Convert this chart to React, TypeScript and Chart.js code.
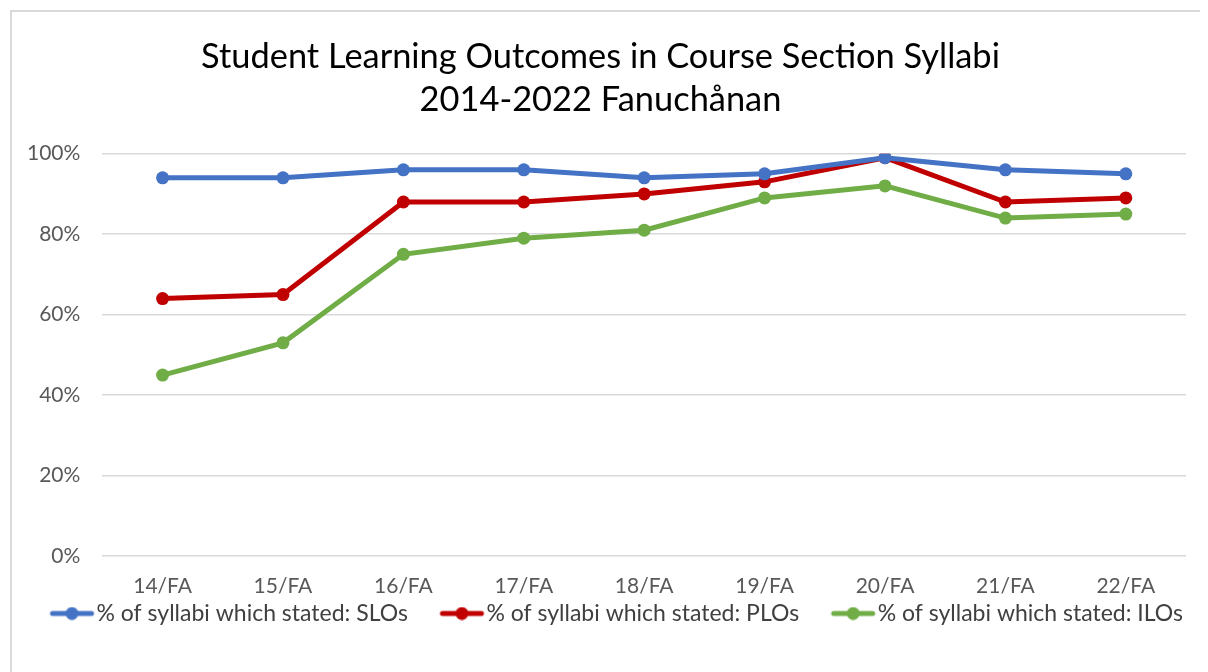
import React, { useEffect, useRef } from "react";
import { Chart, registerables } from "chart.js";

Chart.register(...registerables);

const categories = ["14/FA", "15/FA", "16/FA", "17/FA", "18/FA", "19/FA", "20/FA", "21/FA", "22/FA"];
const sloValues = [94, 94, 96, 96, 94, 95, 99, 96, 95];
const ploValues = [64, 65, 88, 88, 90, 93, 99, 88, 89];
const iloValues = [45, 53, 75, 79, 81, 89, 92, 84, 85];
const seriesLabels = [
  "% of syllabi which stated: SLOs",
  "% of syllabi which stated: PLOs",
  "% of syllabi which stated: ILOs",
];
const seriesColors = ["#4472C4", "#C00000", "#70AD47"];
const titleLines = ["Student Learning Outcomes in Course Section Syllabi", "2014-2022 Fanuchånan"];

const FONT = "Lato, 'Open Sans', sans-serif";
const LEGEND_FONT = 23;
const ICON_LEN = 43;
const ITEM_GAP = 24;
const BOX_W = ICON_LEN + ITEM_GAP;

function legendIcon(color: string): HTMLCanvasElement {
  const h = LEGEND_FONT / 2;
  const W = Math.round(2 * (BOX_W / 2 + h));
  const c = document.createElement("canvas");
  c.width = W;
  c.height = 14;
  const ctx = c.getContext("2d")!;
  const boxLeft = W / 2 - BOX_W / 2;
  const x1 = boxLeft + BOX_W + h - 3;
  const x0 = x1 - ICON_LEN;
  ctx.strokeStyle = color;
  ctx.lineWidth = 5;
  ctx.lineCap = "round";
  ctx.beginPath();
  ctx.moveTo(x0 + 2, 7);
  ctx.lineTo(x1 - 2, 7);
  ctx.stroke();
  ctx.fillStyle = color;
  ctx.beginPath();
  ctx.arc((x0 + x1) / 2, 7, 6.5, 0, Math.PI * 2);
  ctx.fill();
  return c;
}

export default function App() {
  const ref = useRef<HTMLCanvasElement>(null);
  useEffect(() => {
    if (!ref.current) return;
    const values = [sloValues, ploValues, iloValues];
    const icons = seriesColors.map(legendIcon);
    const chart = new Chart(ref.current, {
      type: "line",
      data: {
        labels: categories,
        datasets: values.map((v, i) => ({
          label: seriesLabels[i],
          data: v,
          borderColor: seriesColors[i],
          backgroundColor: seriesColors[i],
          borderWidth: 5,
          pointRadius: 6.5,
          pointBorderWidth: 0,
          pointStyle: "circle",
          tension: 0,
          yAxisID: "y",
        })),
      },
      options: {
        animation: false,
        responsive: false,
        maintainAspectRatio: false,
        layout: { padding: { left: -19, right: 0, top: 0, bottom: 37 } },
        plugins: {
          title: {
            display: true,
            text: titleLines,
            color: "#000000",
            font: { family: FONT, size: 34.4, weight: "normal" as any, lineHeight: 1.26 },
            padding: { top: 23, bottom: 32 },
          },
          legend: {
            position: "bottom",
            labels: {
              color: "#404040",
              font: { family: FONT, size: LEGEND_FONT },
              usePointStyle: true,
              pointStyleWidth: BOX_W,
              boxWidth: BOX_W,
              boxHeight: 14,
              padding: 0,
              generateLabels: (ch: any) =>
                ch.data.datasets.map((d: any, i: number) => ({
                  text: d.label,
                  fillStyle: seriesColors[i],
                  strokeStyle: seriesColors[i],
                  pointStyle: icons[i],
                  lineWidth: 0,
                  hidden: false,
                  datasetIndex: i,
                  fontColor: "#404040",
                })),
            },
          },
          tooltip: { enabled: false },
        },
        scales: {
          x: {
            offset: true,
            grid: { display: false },
            border: { display: false },
            ticks: {
              color: "#595959",
              font: { family: FONT, size: 21, lineHeight: 0.85 },
              padding: 13,
              maxRotation: 0,
            },
            afterFit: (scale: any) => {
              scale.height = scale.height - 6;
            },
          },
          y: {
            min: 0,
            max: 100,
            grid: { color: "#d9d9d9", lineWidth: 1.5, drawTicks: false },
            border: { display: false },
            ticks: {
              stepSize: 20,
              color: "#595959",
              font: { family: FONT, size: 21 },
              padding: 22,
              callback: (v: any) => v + "%",
            },
            afterFit: (scale: any) => {
              scale.width = scale.width + 12;
            },
          },
          yRight: {
            position: "right",
            display: true,
            min: 0,
            max: 100,
            grid: { display: false, drawOnChartArea: false },
            border: { display: false },
            ticks: { display: false },
            afterFit: (scale: any) => {
              scale.width = 22;
            },
          },
        },
      },
    });
    return () => chart.destroy();
  }, []);
  return (
    <div
      style={{
        width: 1198,
        height: 662,
        marginLeft: 2,
        marginTop: 2,
        borderTop: "2px solid #d9d9d9",
        borderLeft: "2px solid #d9d9d9",
        background: "#fff",
        overflow: "hidden",
      }}
    >
      <canvas ref={ref} width={1196} height={660} style={{ display: "block" }} />
    </div>
  );
}
